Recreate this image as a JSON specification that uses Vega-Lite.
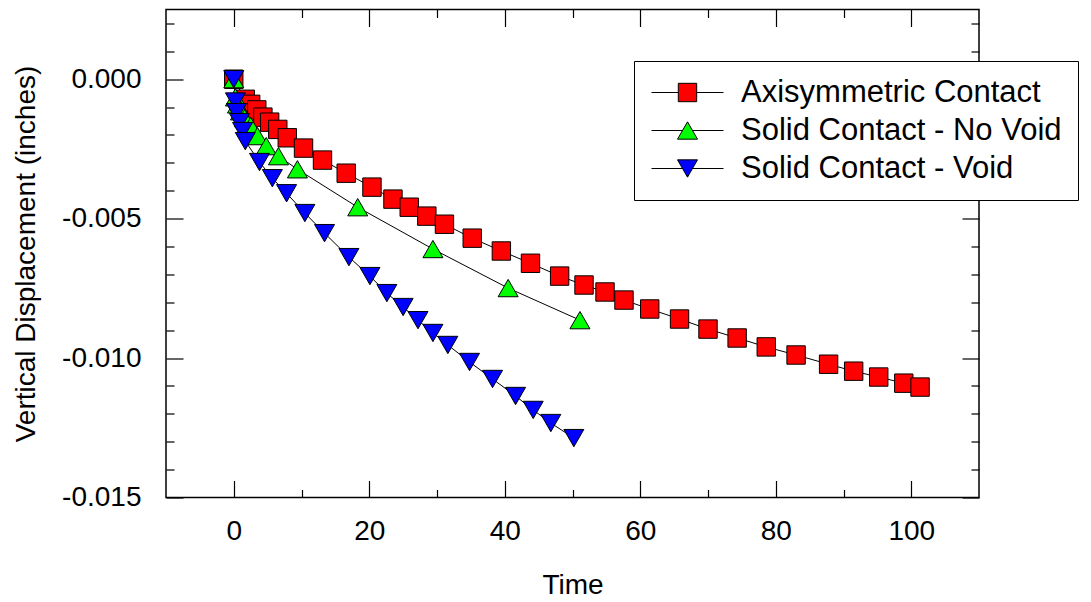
{
  "$schema": "https://vega.github.io/schema/vega-lite/v6.json",
  "width": 813,
  "height": 488,
  "autosize": {"type": "none"},
  "padding": {"left": 166, "top": 9.5, "right": 112, "bottom": 104.5},
  "background": "white",
  "config": {
    "view": {"stroke": "black", "strokeWidth": 1.5},
    "font": "Liberation Sans",
    "axis": {
      "labelFont": "Liberation Sans",
      "labelFontSize": 28,
      "labelColor": "black",
      "titleFont": "Liberation Sans",
      "titleFontSize": 28,
      "titleFontWeight": "normal",
      "titleColor": "black",
      "tickColor": "black",
      "tickWidth": 1.2,
      "domain": false,
      "grid": false,
      "labelOverlap": false,
      "labelBound": false,
      "labelFlush": false
    }
  },
  "data": {
    "values": [
      {"series": "Axisymmetric Contact", "t": 0, "d": 0},
      {"series": "Axisymmetric Contact", "t": 1.7, "d": -0.00072},
      {"series": "Axisymmetric Contact", "t": 2.5, "d": -0.0009},
      {"series": "Axisymmetric Contact", "t": 3.4, "d": -0.0011},
      {"series": "Axisymmetric Contact", "t": 4.3, "d": -0.00136},
      {"series": "Axisymmetric Contact", "t": 5.3, "d": -0.00154},
      {"series": "Axisymmetric Contact", "t": 6.5, "d": -0.0018},
      {"series": "Axisymmetric Contact", "t": 7.9, "d": -0.0021},
      {"series": "Axisymmetric Contact", "t": 10.3, "d": -0.00247},
      {"series": "Axisymmetric Contact", "t": 13.1, "d": -0.0029},
      {"series": "Axisymmetric Contact", "t": 16.6, "d": -0.00337},
      {"series": "Axisymmetric Contact", "t": 20.4, "d": -0.00387},
      {"series": "Axisymmetric Contact", "t": 23.5, "d": -0.0043},
      {"series": "Axisymmetric Contact", "t": 25.9, "d": -0.00459},
      {"series": "Axisymmetric Contact", "t": 28.5, "d": -0.00491},
      {"series": "Axisymmetric Contact", "t": 31.1, "d": -0.0052},
      {"series": "Axisymmetric Contact", "t": 35.2, "d": -0.0057},
      {"series": "Axisymmetric Contact", "t": 39.5, "d": -0.00616},
      {"series": "Axisymmetric Contact", "t": 43.8, "d": -0.0066},
      {"series": "Axisymmetric Contact", "t": 48.1, "d": -0.00706},
      {"series": "Axisymmetric Contact", "t": 51.7, "d": -0.00738},
      {"series": "Axisymmetric Contact", "t": 54.8, "d": -0.00763},
      {"series": "Axisymmetric Contact", "t": 57.6, "d": -0.00792},
      {"series": "Axisymmetric Contact", "t": 61.4, "d": -0.00824},
      {"series": "Axisymmetric Contact", "t": 65.8, "d": -0.0086},
      {"series": "Axisymmetric Contact", "t": 70.0, "d": -0.00896},
      {"series": "Axisymmetric Contact", "t": 74.3, "d": -0.00928},
      {"series": "Axisymmetric Contact", "t": 78.6, "d": -0.0096},
      {"series": "Axisymmetric Contact", "t": 83.0, "d": -0.00989},
      {"series": "Axisymmetric Contact", "t": 87.8, "d": -0.01022},
      {"series": "Axisymmetric Contact", "t": 91.5, "d": -0.01047},
      {"series": "Axisymmetric Contact", "t": 95.2, "d": -0.01068},
      {"series": "Axisymmetric Contact", "t": 98.9, "d": -0.0109},
      {"series": "Axisymmetric Contact", "t": 101.3, "d": -0.01104},
      {"series": "Solid Contact - No Void", "t": 0, "d": 0},
      {"series": "Solid Contact - No Void", "t": 0.25, "d": -0.00065},
      {"series": "Solid Contact - No Void", "t": 0.55, "d": -0.0009},
      {"series": "Solid Contact - No Void", "t": 1.0, "d": -0.00115},
      {"series": "Solid Contact - No Void", "t": 1.6, "d": -0.0014},
      {"series": "Solid Contact - No Void", "t": 2.5, "d": -0.00168},
      {"series": "Solid Contact - No Void", "t": 3.5, "d": -0.00204},
      {"series": "Solid Contact - No Void", "t": 4.8, "d": -0.0024},
      {"series": "Solid Contact - No Void", "t": 6.6, "d": -0.00276},
      {"series": "Solid Contact - No Void", "t": 9.4, "d": -0.00323},
      {"series": "Solid Contact - No Void", "t": 18.3, "d": -0.00459},
      {"series": "Solid Contact - No Void", "t": 29.4, "d": -0.00609},
      {"series": "Solid Contact - No Void", "t": 40.5, "d": -0.00749},
      {"series": "Solid Contact - No Void", "t": 51.1, "d": -0.00864},
      {"series": "Solid Contact - Void", "t": 0, "d": 0},
      {"series": "Solid Contact - Void", "t": 0.25, "d": -0.0008},
      {"series": "Solid Contact - Void", "t": 0.4, "d": -0.00118},
      {"series": "Solid Contact - Void", "t": 0.85, "d": -0.00154},
      {"series": "Solid Contact - Void", "t": 1.3, "d": -0.00186},
      {"series": "Solid Contact - Void", "t": 1.7, "d": -0.00222},
      {"series": "Solid Contact - Void", "t": 3.8, "d": -0.00297},
      {"series": "Solid Contact - Void", "t": 5.7, "d": -0.00355},
      {"series": "Solid Contact - Void", "t": 7.8, "d": -0.00409},
      {"series": "Solid Contact - Void", "t": 10.5, "d": -0.0048},
      {"series": "Solid Contact - Void", "t": 13.4, "d": -0.00552},
      {"series": "Solid Contact - Void", "t": 17.0, "d": -0.00638},
      {"series": "Solid Contact - Void", "t": 20.1, "d": -0.00706},
      {"series": "Solid Contact - Void", "t": 22.6, "d": -0.00767},
      {"series": "Solid Contact - Void", "t": 25.0, "d": -0.00817},
      {"series": "Solid Contact - Void", "t": 27.2, "d": -0.00864},
      {"series": "Solid Contact - Void", "t": 29.4, "d": -0.0091},
      {"series": "Solid Contact - Void", "t": 31.6, "d": -0.00953},
      {"series": "Solid Contact - Void", "t": 34.8, "d": -0.01014},
      {"series": "Solid Contact - Void", "t": 38.2, "d": -0.01075},
      {"series": "Solid Contact - Void", "t": 41.6, "d": -0.01136},
      {"series": "Solid Contact - Void", "t": 44.2, "d": -0.01186},
      {"series": "Solid Contact - Void", "t": 46.8, "d": -0.01233},
      {"series": "Solid Contact - Void", "t": 50.2, "d": -0.01287}
    ]
  },
  "layer": [
    {
      "mark": {"type": "line", "color": "black", "strokeWidth": 1},
      "encoding": {
        "x": {
          "field": "t", "type": "quantitative",
          "scale": {"domain": [-10, 110], "nice": false, "zero": false},
          "axis": {
            "orient": "bottom", "title": "Time", "ticks": false,
            "values": [0, 20, 40, 60, 80, 100],
            "labelPadding": 20, "titlePadding": 26
          }
        },
        "y": {
          "field": "d", "type": "quantitative",
          "scale": {"domain": [-0.015, 0.0025], "nice": false, "zero": false},
          "axis": {
            "orient": "left", "title": "Vertical Displacement (inches)", "ticks": false,
            "values": [0, -0.005, -0.01, -0.015],
            "labelExpr": "datum.value < -1e-9 ? '-' + format(-datum.value, '.3f') : format(abs(datum.value), '.3f')",
            "labelPadding": 25, "titlePadding": 21
          }
        },
        "detail": {"field": "series", "type": "nominal"}
      }
    },
    {
      "mark": {"type": "point", "filled": true, "size": 400, "stroke": "black", "strokeWidth": 1, "opacity": 1},
      "encoding": {
        "x": {
          "field": "t", "type": "quantitative",
          "axis": {"orient": "bottom", "title": null, "labels": false, "tickSize": -17, "values": [0, 20, 40, 60, 80, 100]}
        },
        "y": {
          "field": "d", "type": "quantitative",
          "axis": {"orient": "left", "title": null, "labels": false, "tickSize": -17, "values": [0, -0.005, -0.01, -0.015]}
        },
        "fill": {
          "field": "series", "type": "nominal",
          "scale": {
            "domain": ["Axisymmetric Contact", "Solid Contact - No Void", "Solid Contact - Void"],
            "range": ["#ff0000", "#00ff00", "#0000ff"]
          },
          "legend": null
        },
        "shape": {
          "field": "series", "type": "nominal",
          "scale": {
            "domain": ["Axisymmetric Contact", "Solid Contact - No Void", "Solid Contact - Void"],
            "range": ["M-0.92,-0.92H0.92V0.92H-0.92Z", "M0,-0.866L1,0.866H-1Z", "M0,0.866L1,-0.866H-1Z"]
          },
          "legend": null
        }
      }
    },
    {
      "transform": [{"filter": "false"}],
      "mark": {"type": "point", "opacity": 0},
      "encoding": {
        "x": {
          "field": "t", "type": "quantitative",
          "axis": {"orient": "top", "title": null, "labels": false, "tickSize": -17, "values": [0, 20, 40, 60, 80, 100]}
        },
        "y": {
          "field": "d", "type": "quantitative",
          "axis": {"orient": "right", "title": null, "labels": false, "tickSize": -17, "values": [0, -0.005, -0.01, -0.015]}
        }
      }
    },
    {
      "transform": [{"filter": "false"}],
      "mark": {"type": "point", "opacity": 0},
      "encoding": {
        "x": {
          "field": "t", "type": "quantitative",
          "axis": {"orient": "top", "title": null, "labels": false, "tickSize": -8, "values": [10, 30, 50, 70, 90]}
        },
        "y": {
          "field": "d", "type": "quantitative",
          "axis": {"orient": "right", "title": null, "labels": false, "tickSize": -8, "values": [0.002, 0.001, -0.001, -0.002, -0.003, -0.004, -0.006, -0.007, -0.008, -0.009, -0.011, -0.012, -0.013, -0.014]}
        }
      }
    },
    {
      "transform": [{"filter": "false"}],
      "mark": {"type": "point", "filled": true, "size": 400, "stroke": "black", "strokeWidth": 1, "opacity": 1},
      "encoding": {
        "x": {
          "field": "t", "type": "quantitative",
          "axis": {"orient": "bottom", "title": null, "labels": false, "tickSize": -8, "values": [10, 30, 50, 70, 90]}
        },
        "y": {
          "field": "d", "type": "quantitative",
          "axis": {"orient": "left", "title": null, "labels": false, "tickSize": -8, "values": [0.002, 0.001, -0.001, -0.002, -0.003, -0.004, -0.006, -0.007, -0.008, -0.009, -0.011, -0.012, -0.013, -0.014]}
        },
        "fill": {
          "field": "series", "type": "nominal",
          "scale": {
            "domain": ["Axisymmetric Contact", "Solid Contact - No Void", "Solid Contact - Void"],
            "range": ["#ff0000", "#00ff00", "#0000ff"]
          },
          "legend": {
            "title": null, "orient": "none", "legendX": 468, "legendY": 51.5,
            "fillColor": "white", "strokeColor": "black", "padding": 16,
            "labelFont": "Liberation Sans", "labelFontSize": 31, "labelColor": "black", "labelLimit": 500,
            "symbolSize": 400, "symbolOffset": 22, "labelOffset": 38, "rowPadding": 6,
            "symbolStrokeColor": "black", "symbolStrokeWidth": 1, "symbolOpacity": 1
          }
        },
        "stroke": {
          "field": "series", "type": "nominal",
          "scale": {
            "domain": ["Axisymmetric Contact", "Solid Contact - No Void", "Solid Contact - Void"],
            "range": ["black", "black", "black"]
          },
          "legend": {
            "title": null, "orient": "none", "legendX": 468, "legendY": 51.5,
            "fillColor": "white", "strokeColor": "black", "padding": 16,
            "labelFont": "Liberation Sans", "labelFontSize": 31, "labelColor": "black", "labelLimit": 500,
            "symbolSize": 400, "symbolOffset": 22, "labelOffset": 38, "rowPadding": 6,
            "symbolStrokeColor": "black", "symbolStrokeWidth": 1, "symbolOpacity": 1
          }
        },
        "shape": {
          "field": "series", "type": "nominal",
          "scale": {
            "domain": ["Axisymmetric Contact", "Solid Contact - No Void", "Solid Contact - Void"],
            "range": [
              "M-3.6,0H-0.92M0.92,0H3.6M-0.92,-0.92H0.92V0.92H-0.92Z",
              "M-3.6,0H-0.5M0.5,0H3.6M0,-0.866L1,0.866H-1Z",
              "M-3.6,0H-0.5M0.5,0H3.6M0,0.866L1,-0.866H-1Z"
            ]
          },
          "legend": {
            "title": null, "orient": "none", "legendX": 468, "legendY": 51.5,
            "fillColor": "white", "strokeColor": "black", "padding": 16,
            "labelFont": "Liberation Sans", "labelFontSize": 31, "labelColor": "black", "labelLimit": 500,
            "symbolSize": 400, "symbolOffset": 22, "labelOffset": 38, "rowPadding": 6,
            "symbolStrokeColor": "black", "symbolStrokeWidth": 1, "symbolOpacity": 1
          }
        }
      }
    }
  ],
  "resolve": {
    "axis": {"x": "independent", "y": "independent"},
    "scale": {"fill": "independent", "shape": "independent", "stroke": "independent"}
  }
}
